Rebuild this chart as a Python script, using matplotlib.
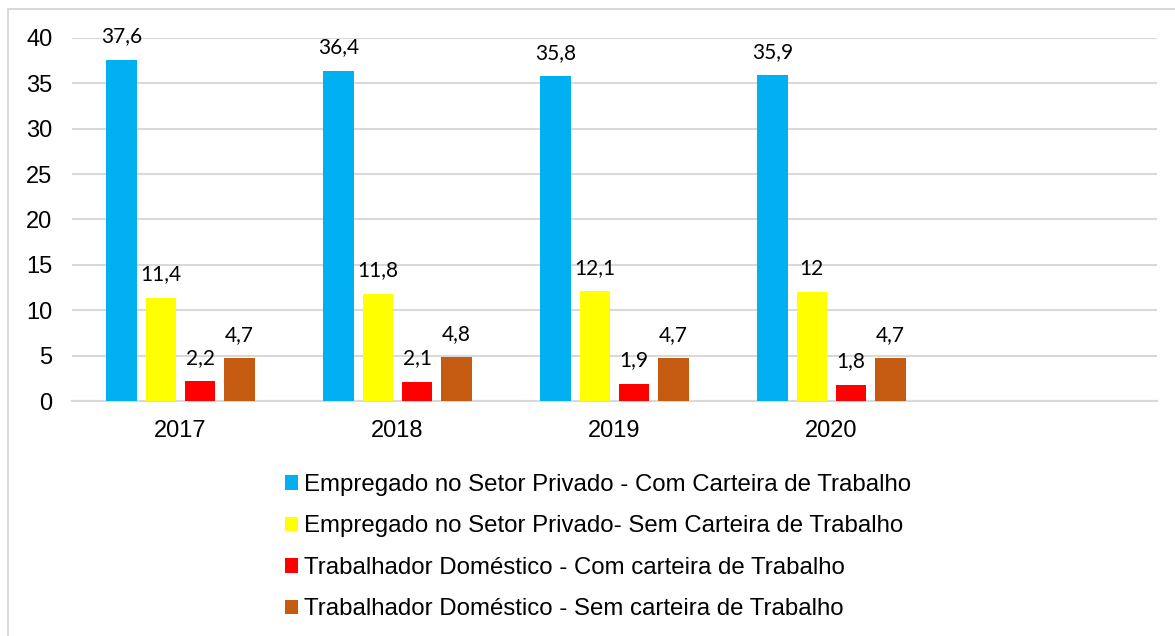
import matplotlib
matplotlib.use("Agg")
import matplotlib.pyplot as plt
from matplotlib.patches import Rectangle, Patch
import numpy as np

years = ["2017", "2018", "2019", "2020"]
series_names = [
    "Empregado no Setor Privado - Com Carteira de Trabalho",
    "Empregado no Setor Privado- Sem Carteira de Trabalho",
    "Trabalhador Doméstico - Com carteira de Trabalho",
    "Trabalhador Doméstico - Sem carteira de Trabalho",
]
com_carteira_privado = [37.6, 36.4, 35.8, 35.9]
sem_carteira_privado = [11.4, 11.8, 12.1, 12.0]
com_carteira_domestico = [2.2, 2.1, 1.9, 1.8]
sem_carteira_domestico = [4.7, 4.8, 4.7, 4.7]
series_values = [com_carteira_privado, sem_carteira_privado,
                 com_carteira_domestico, sem_carteira_domestico]
colors = ["#00B0F0", "#FFFF00", "#FF0000", "#C55A11"]

W, H = 1175, 636
fig = plt.figure(figsize=(W / 100, H / 100), dpi=100)
fig.patch.set_facecolor("white")

# outer border
fig.patches.append(Rectangle((8 / W, -0.1), 1.2, 1 - 9 / H + 0.1,
                             transform=fig.transFigure, fill=False,
                             edgecolor="#D9D9D9", linewidth=1.5))

ax = fig.add_axes([72 / W, 1 - 401 / H, (1157 - 72) / W, (401 - 38) / H])
n_cats = 5  # Excel category axis has an empty extra slot
x = np.arange(len(years))
bw = 0.1415
step = 0.181
offsets = (np.arange(4) - 1.5) * step

def fmt(v):
    return ("%g" % v).replace(".", ",")

for i, (vals, col, name) in enumerate(zip(series_values, colors, series_names)):
    bars = ax.bar(x + offsets[i], vals, width=bw, color=col, label=name, zorder=3)
    for b, v in zip(bars, vals):
        ax.annotate(fmt(v), (b.get_x() + b.get_width() / 2, b.get_height()),
                    xytext=(0, 12.5), textcoords="offset points",
                    ha="center", va="baseline", fontsize=15, family="Lato",
                    color="#000000", zorder=4)

ax.set_xlim(-0.5, n_cats - 0.5)
ax.set_ylim(0, 40)
ax.set_yticks(np.arange(0, 41, 5))
ax.set_xticks(x)
ax.set_xticklabels(years)
for s in ["top", "right", "left"]:
    ax.spines[s].set_visible(False)
ax.spines["bottom"].set_color("#D9D9D9")
ax.spines["bottom"].set_linewidth(1.5)
ax.spines["bottom"].set_zorder(2)
ax.yaxis.grid(True, color="#D9D9D9", linewidth=1.5, zorder=0)
ax.set_axisbelow(True)
ax.tick_params(axis="both", length=0, labelsize=17, colors="#000000")
ax.tick_params(axis="y", pad=14)
ax.tick_params(axis="x", pad=14)
for lab in ax.get_xticklabels() + ax.get_yticklabels():
    lab.set_family("Liberation Sans")

handles = [Patch(facecolor=c, edgecolor="none") for c in colors]
leg = fig.legend(handles, series_names, loc="upper left",
                 bbox_to_anchor=(285 / W, 1 - 474 / H), frameon=False,
                 prop={"family": "Liberation Sans", "size": 17.3},
                 handlelength=0.55, handleheight=0.55, handletextpad=0.22,
                 labelspacing=0.81, borderpad=0, borderaxespad=0)

fig.savefig("out.png", dpi=100, facecolor="white")
